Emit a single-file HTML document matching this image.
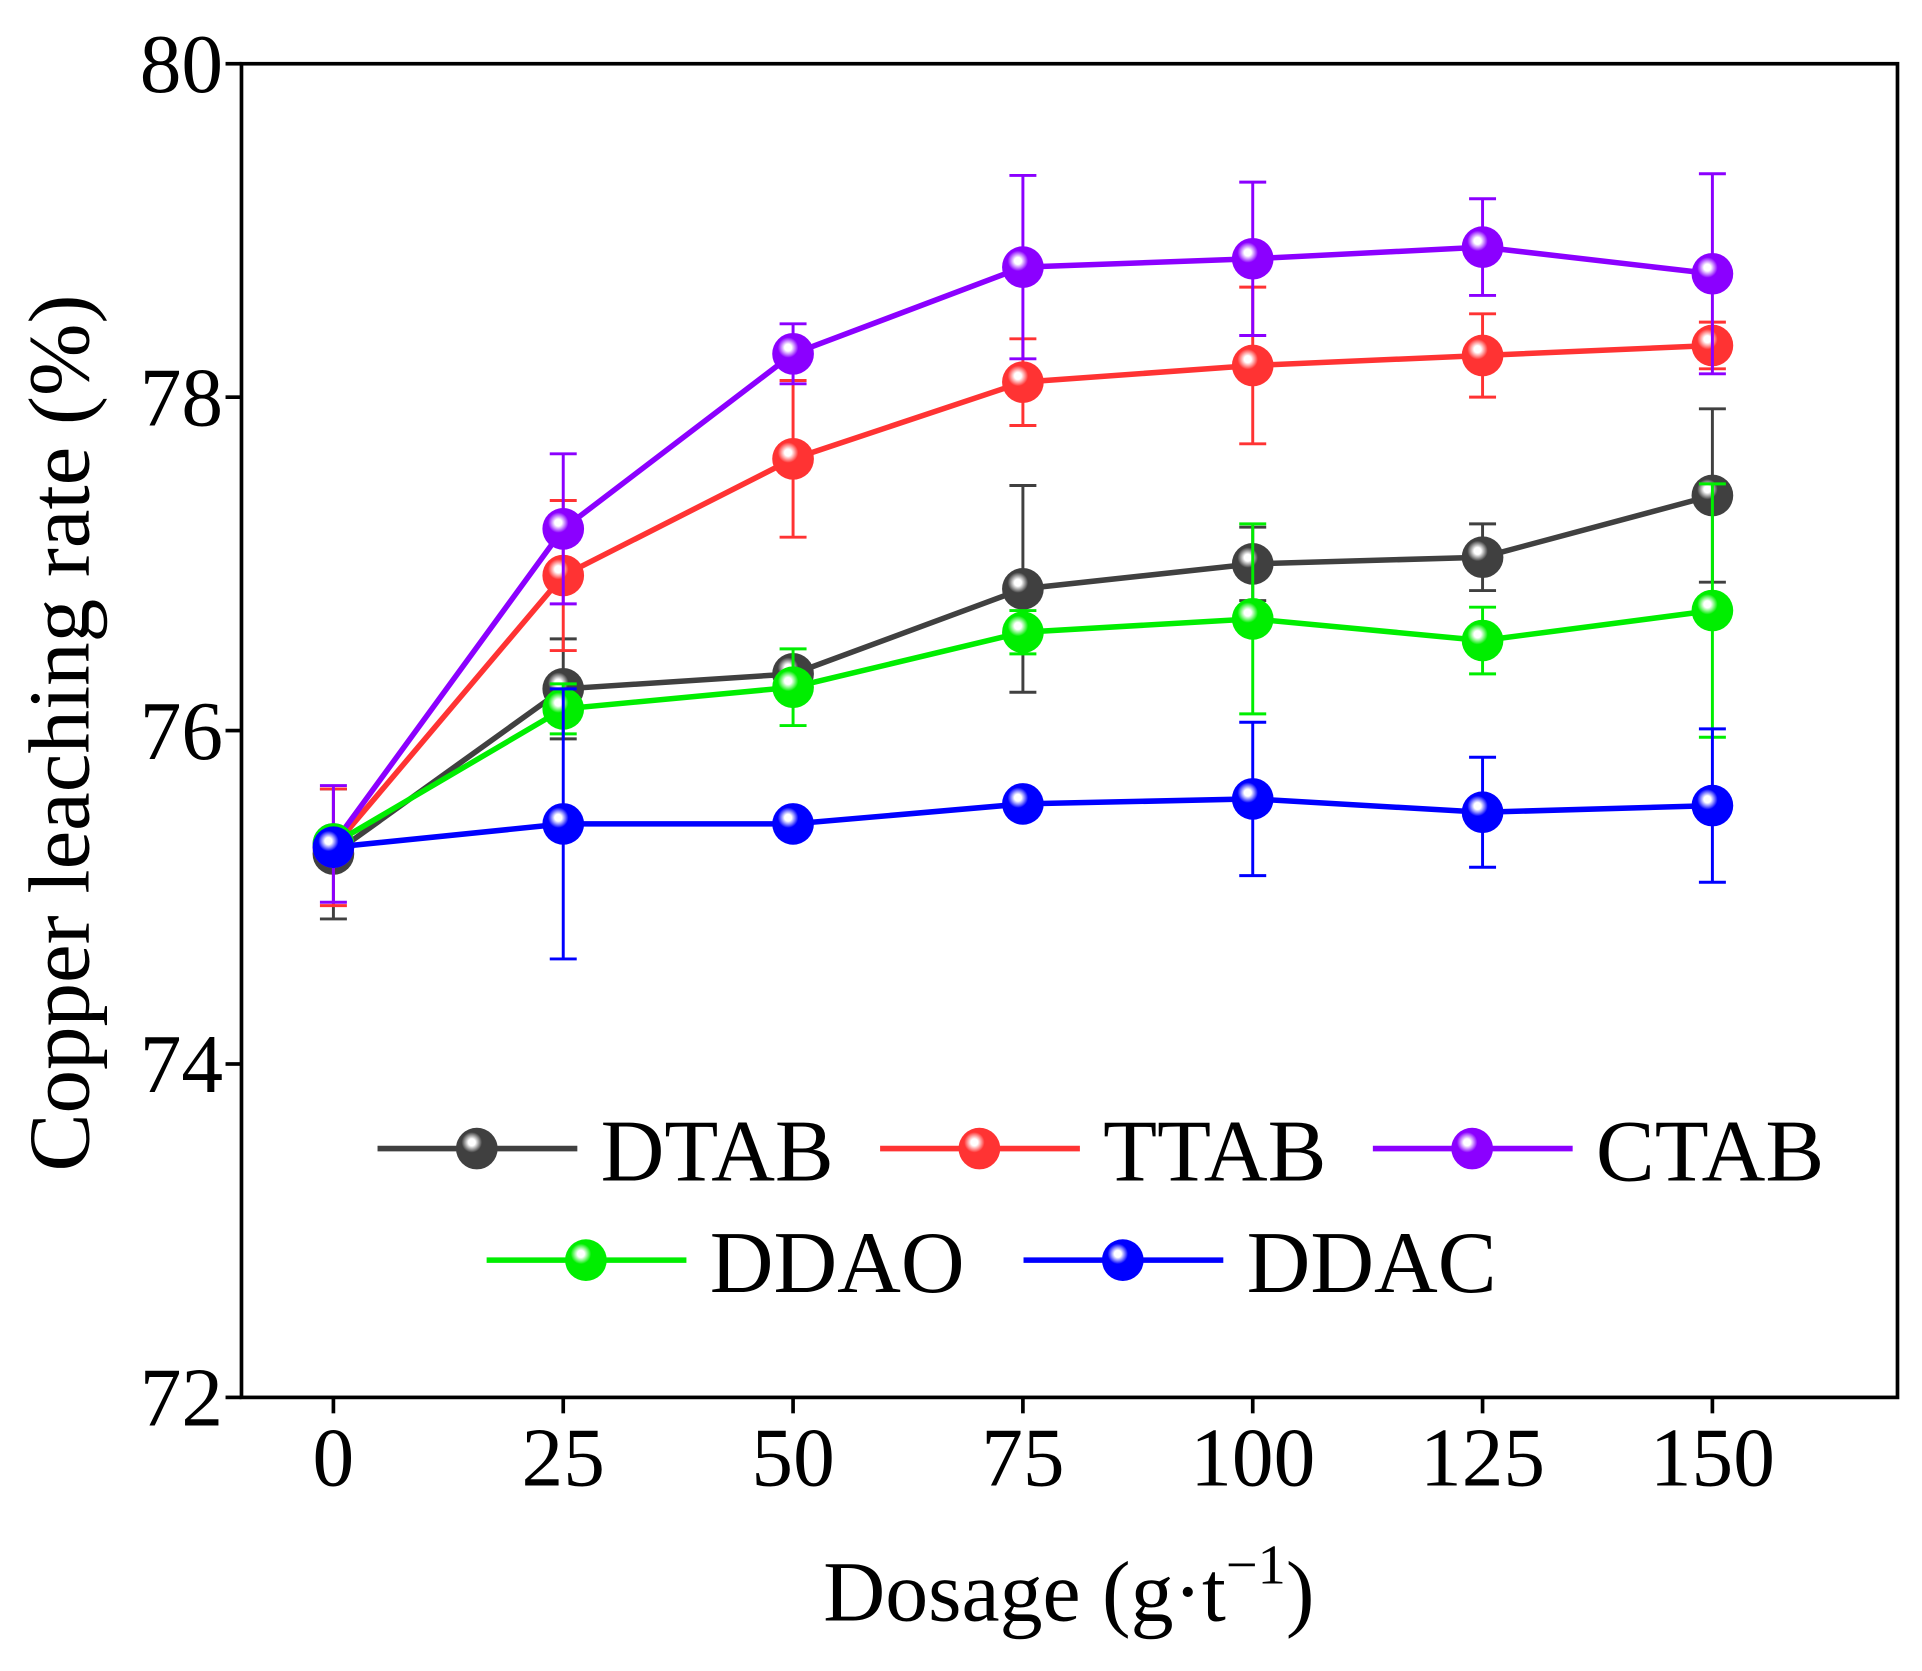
<!DOCTYPE html>
<html><head><meta charset="utf-8"><style>
html,body{margin:0;padding:0;background:#fff;}
svg{display:block;}
text{font-family:"Liberation Serif",serif;fill:#000;}
</style></head><body>
<svg id="chart" width="1922" height="1671" viewBox="0 0 1568 1363.2" preserveAspectRatio="none" xmlns="http://www.w3.org/2000/svg">
<defs id="defs"></defs>
<rect x="197" y="52" width="1351" height="1088" fill="none" stroke="#000" stroke-width="3"/>
<g id="axes"></g>
<g id="series"></g>
<g id="legend"></g>
<text x="872" y="1322" font-size="70" text-anchor="middle">Dosage (g·t<tspan dy="-30" font-size="46">−1</tspan><tspan dy="30">)</tspan></text>
<text transform="translate(72,598) rotate(-90)" font-size="71" text-anchor="middle">Copper leaching rate (%)</text>
</svg>
<script>
const categories=[0,25,50,75,100,125,150];
const xTicks=[0,25,50,75,100,125,150];
const yTicks=[72,74,76,78,80];
const seriesNames=["DTAB","TTAB","CTAB","DDAO","DDAC"];
const dtab=[75.26,76.25,76.34,76.85,77.0,77.04,77.41];
const dtabErr=[0.39,0.3,0.08,0.62,0.22,0.2,0.52];
const ttab=[75.3,76.93,77.63,78.09,78.19,78.25,78.31];
const ttabErr=[0.35,0.45,0.47,0.26,0.47,0.25,0.14];
const ctab=[75.32,77.21,78.26,78.78,78.83,78.9,78.74];
const ctabErr=[0.35,0.45,0.18,0.55,0.46,0.29,0.6];
const ddao=[75.32,76.13,76.26,76.59,76.67,76.54,76.72];
const ddaoErr=[0.05,0.15,0.23,0.13,0.57,0.2,0.76];
const ddac=[75.3,75.44,75.44,75.56,75.59,75.51,75.55];
const ddacErr=[0.02,0.81,0.03,0.05,0.46,0.33,0.46];
const colors=["#404040","#ff3333","#8b00ff","#00ee00","#0000ff"];
const NS="http://www.w3.org/2000/svg";
const X=v=>272+(v-0)*(1397-272)/150;
const Y=v=>1140-(v-72)*(1140-52)/8;
function mk(tag,attrs,parent){const e=document.createElementNS(NS,tag);for(const k in attrs)e.setAttribute(k,attrs[k]);parent.appendChild(e);return e;}
const defs=document.getElementById('defs');
colors.forEach((c,i)=>{const g=mk('radialGradient',{id:'g'+i,cx:'0.38',cy:'0.35',r:'0.7'},defs);
mk('stop',{offset:'0','stop-color':'#ffffff'},g);mk('stop',{offset:'0.12','stop-color':'#ffffff'},g);
mk('stop',{offset:'0.35','stop-color':c},g);mk('stop',{offset:'1','stop-color':c},g);});
const axes=document.getElementById('axes');
xTicks.forEach(t=>{
 const l=mk('line',{x1:X(t),x2:X(t),y1:1140,y2:1153,stroke:'#000','stroke-width':3},axes);
 
 
 const tx=mk('text',{x:X(t),y:1212,'font-size':68,'text-anchor':'middle'},axes);tx.textContent=t;
 
 
});
yTicks.forEach(t=>{
 const l=mk('line',{x1:184,x2:197,y1:Y(t),y2:Y(t),stroke:'#000','stroke-width':3},axes);
 
 
 const tx=mk('text',{x:182,y:Y(t)+23,'font-size':68,'text-anchor':'end'},axes);tx.textContent=t;
 
 
});
const data=[[dtab,dtabErr],[ttab,ttabErr],[ctab,ctabErr],[ddao,ddaoErr],[ddac,ddacErr]];
const sg=document.getElementById('series');
data.forEach((d,i)=>{
 const [vals,err]=d;const c=colors[i];
 const g=mk('g',{},sg);
 
 
 const p=mk('polyline',{points:vals.map((v,j)=>X(categories[j])+','+Y(v)).join(' '),fill:'none',stroke:c,'stroke-width':4.5},g);
 
 
 vals.forEach((v,j)=>{
  const x=X(categories[j]);
  const e=mk('path',{d:`M${x},${Y(v-err[j])}V${Y(v+err[j])}M${x-11},${Y(v-err[j])}h22M${x-11},${Y(v+err[j])}h22`,stroke:c,'stroke-width':2.4,fill:'none'},g);
  
  
 });
 vals.forEach((v,j)=>{
  const m=mk('circle',{cx:X(categories[j]),cy:Y(v),r:17,fill:'url(#g'+i+')'},g);
  
  
 });
});
const lg=document.getElementById('legend');
const legPos=[[308,937],[718,937],[1120,937],[397,1028],[835,1028]];
seriesNames.forEach((n,i)=>{
 const [x,y]=legPos[i];
 const g=mk('g',{},lg);
 
 
 mk('line',{x1:x,x2:x+163,y1:y,y2:y,stroke:colors[i],'stroke-width':4.5},g);
 mk('circle',{cx:x+81,cy:y,r:17,fill:'url(#g'+i+')'},g);
 const t=mk('text',{x:x+182,y:y+26,'font-size':72},g);t.textContent=n;
});
</script>
</body></html>
